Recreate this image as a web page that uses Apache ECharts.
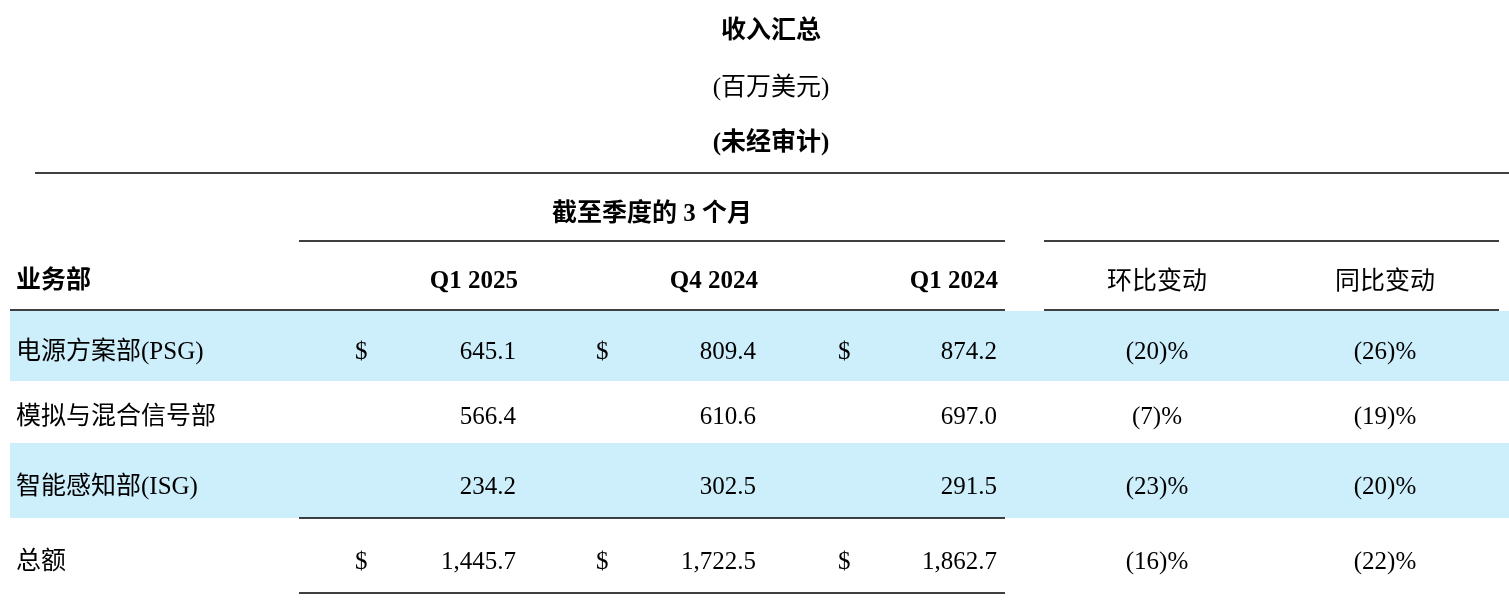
<!DOCTYPE html><html><head><meta charset="utf-8"><script src="https://cdn.jsdelivr.net/npm/echarts@6/dist/echarts.min.js"></script>
<style>html,body{margin:0;background:#fff}#c{width:1509px;height:603px}</style></head><body><div id="c"></div><script>
const titles=['收入汇总','(百万美元)','(未经审计)'];
const periodHeader='截至季度的 3 个月';
const columns=['Q1 2025','Q4 2024','Q1 2024','环比变动','同比变动'];
const rowLabel='业务部';
const segments=['电源方案部(PSG)','模拟与混合信号部','智能感知部(ISG)','总额'];
const q1_2025=['645.1','566.4','234.2','1,445.7'];
const q4_2024=['809.4','610.6','302.5','1,722.5'];
const q1_2024=['874.2','697.0','291.5','1,862.7'];
const qoq=['(20)%','(7)%','(23)%','(16)%'];
const yoy=['(26)%','(19)%','(20)%','(22)%'];
const showDollar=[true,false,false,true];

const F='"Liberation Serif","Noto Sans CJK SC",serif';
const g=[];
function t(x,y,s,o={}){g.push({type:'text',x,y:y+2,style:{text:s,font:(o.b?'bold ':'')+(o.fs||25)+'px '+F,fill:'#000',align:o.a||'left',verticalAlign:'middle'}});}
function r(x,y,w,h,c){g.push({type:'rect',shape:{x,y,width:w,height:h},style:{fill:c}});}
function l(x1,x2,y){g.push({type:'line',shape:{x1,y1:y,x2,y2:y},style:{stroke:'#000',lineWidth:1.3}});}
const band='#cdeefb';
r(10,311,1499,70,band);r(10,443,1499,75,band);
t(771,30,titles[0],{b:1,a:'center'});t(771,86,titles[1],{a:'center'});t(771,142,titles[2],{b:1,a:'center'});
l(35,1509,173);
t(652,213,periodHeader,{b:1,a:'center'});
l(299,1005,241);l(1044,1499,241);
t(16,280,rowLabel,{b:1});
t(518,280,columns[0],{b:1,a:'right'});t(758,280,columns[1],{b:1,a:'right'});t(998,280,columns[2],{b:1,a:'right'});
t(1157,280,columns[3],{a:'center'});t(1385,280,columns[4],{a:'center'});
l(10,1005,310);l(1044,1499,310);
const ys=[350,415,485,560];
segments.forEach((s,i)=>{const y=ys[i];
 t(16,y,s);
 if(showDollar[i]){t(355,y,'$');t(596,y,'$');t(838,y,'$');}
 t(516,y,q1_2025[i],{a:'right'});t(756,y,q4_2024[i],{a:'right'});t(997,y,q1_2024[i],{a:'right'});
 t(1157,y,qoq[i],{a:'center'});t(1385,y,yoy[i],{a:'center'});
});
l(299,1005,518);l(299,1005,593);
echarts.init(document.getElementById('c')).setOption({animation:false,graphic:g});
</script></body></html>
